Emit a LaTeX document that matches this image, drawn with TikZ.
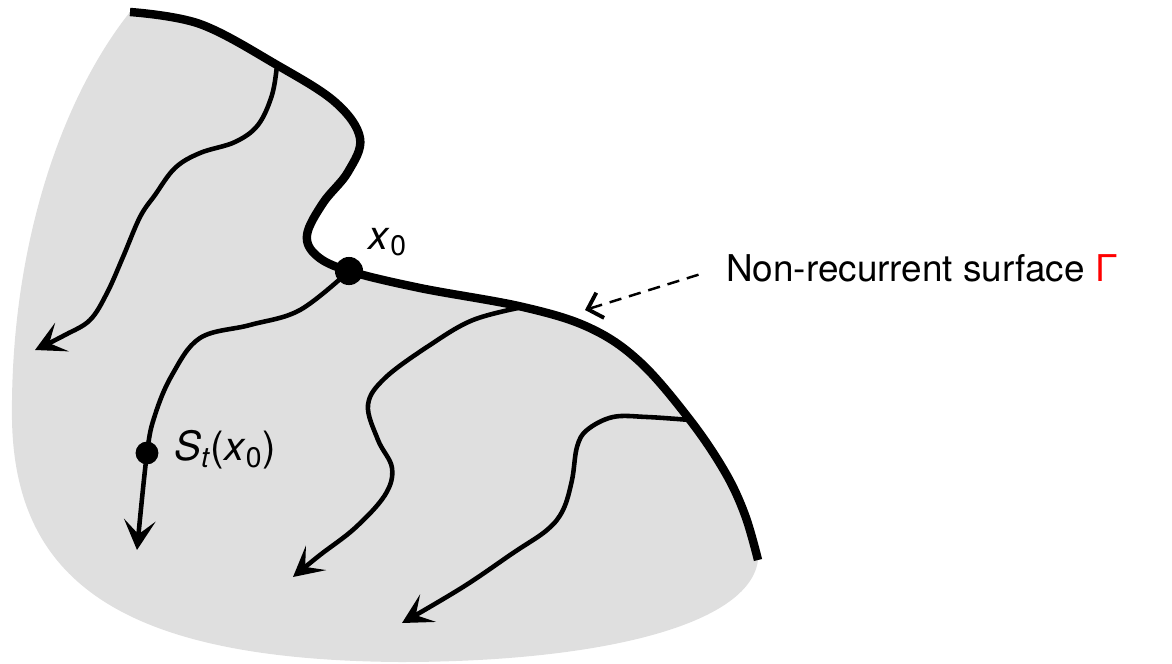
\documentclass[tikz,border=0pt]{standalone}
\usepackage{fontspec}
\setmainfont{TeX Gyre Heros}
\usetikzlibrary{arrows.meta}

\definecolor{regiongray}{RGB}{223,223,223}

\tikzset{
  surface/.style={line width=4.8pt, line cap=butt},
  flow/.style={line width=2.6pt, -{Stealth[length=17pt, width=18pt, inset=8pt]}},
  pointer/.style={line width=1.4pt, dash pattern=on 7pt off 4.5pt, -{Straight Barb[length=7.5pt, width=15pt, line width=2.2pt]}},
  dot/.style={circle, fill=black, inner sep=0pt},
  mathlabel/.style={font=\fontsize{23}{27}\selectfont},
}

\begin{document}
\begin{tikzpicture}[x=0.02cm, y=-0.02cm, font=\fontsize{21}{25}\selectfont]
    \useasboundingbox (0,0) rectangle (1172,663);

    % Define the points on the surface
    \coordinate (G0) at (130,12);
    \coordinate (J1) at (277,65);
    \coordinate (P) at (349,271);
    \coordinate (J2) at (523,307);
    \coordinate (J3) at (690,420);
    \coordinate (G1) at (758,560);
    \coordinate (Gtip) at (585,310);

    % Fill the region
    \fill[regiongray] plot[smooth, tension=0.6] coordinates {(G0) (200,24) (J1) (335,102) (360,138) (348,172) (323,203) (307,235) (317,256) (P) (420,288) (J2) (590,328) (640,362) (J3) (725,472) (745,515) (G1)}
      .. controls (750,625) and (600,662) .. (400,662)
      .. controls (120,660) and (15,580) .. (12,420)
      .. controls (10,250) and (60,100) .. (G0) -- cycle;

    % Draw the flow lines
    \draw[flow] plot[smooth, tension=0.6] coordinates {(J1) (272,95) (258,125) (235,142) (200,153) (175,168) (155,195) (140,217) (123,257) (107,293) (90,320) (65,335) (35,350)};
    \draw[flow] plot[smooth, tension=0.6] coordinates {(P) (300,310) (250,325) (200,338) (172,375) (155,415) (147,453) (137,550)};
    \draw[flow] plot[smooth, tension=0.6] coordinates {(J2) (473,320) (430,345) (385,378) (368,405) (378,440) (392,468) (385,495) (355,528) (320,555) (293,577)};
    \draw[flow] plot[smooth, tension=0.6] coordinates {(J3) (647,417) (613,417) (587,430) (577,447) (572,480) (563,510) (547,530) (513,553) (463,587) (402,623)};

    % Draw the surface
    \draw[surface] plot[smooth, tension=0.6] coordinates {(G0) (200,24) (J1) (335,102) (360,138) (348,172) (323,203) (307,235) (317,256) (P) (420,288) (J2) (590,328) (640,362) (J3) (725,472) (745,515) (G1)};

    % Draw the points
    \node[dot, minimum size=13pt] (St) at (147,453) {};
    \node[dot, minimum size=16pt] (x0) at (P) {};

    % Place the labels
    \node[mathlabel] at (388,242) {\textit{x}\textsubscript{0}};
    \node[mathlabel, right] (Stlabel) at (168,450) {\textit{S}\textsubscript{\textit{t}}(\textit{x}\textsubscript{0})};
    \node[right] (gammalabel) at (720,268) {Non-recurrent surface \textcolor{red}{Γ}};

    % Point to the surface
    \draw[pointer, shorten <=0.45cm] (gammalabel.west) -- (Gtip);

\end{tikzpicture}
\end{document}
